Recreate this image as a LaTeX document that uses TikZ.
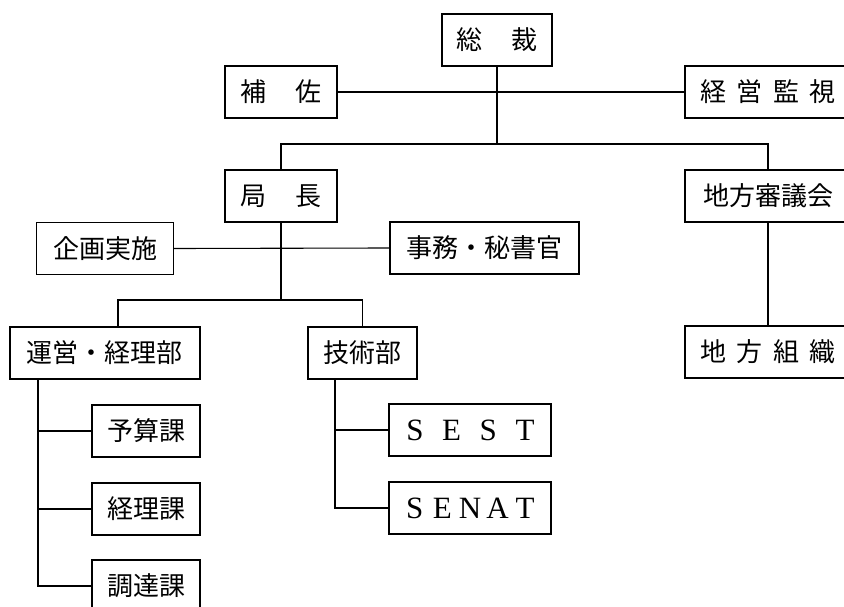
\documentclass[tikz,border=0pt]{standalone}
\usepackage{fontspec}
\setmainfont{Liberation Serif}
\newfontfamily\jpfont{Noto Sans CJK JP}
\newcommand{\pit}[2]{\makebox[#1]{#2}}
\tikzset{
  box/.style={draw, line width=1.4pt, minimum height=52pt, inner sep=0pt,
    font=\jpfont\fontsize{26}{26}\selectfont},
  latin/.style={font=\rmfamily\fontsize{31}{31}\selectfont},
  conn/.style={line width=1.3pt},
  thinconn/.style={line width=1.1pt},
}
\begin{document}
\begin{tikzpicture}[x=1pt,y=-1pt]
\useasboundingbox (0,0) rectangle (844,607);
\fill[white] (0,0) rectangle (844,607);
\clip (0,0) rectangle (844,607);

% nodes
\node[box, minimum width=108pt] (souzai) at (497,40) {\pit{55pt}{総}\pit{55pt}{裁}};
\node[box, minimum width=110pt] (hosa) at (281,92) {\pit{56pt}{補}\pit{56pt}{佐}};
\node[box, minimum width=166pt] (keiei) at (768,92) {\pit{36.5pt}{経}\pit{36.5pt}{営}\pit{36.5pt}{監}\pit{36.5pt}{視}};
\node[box, minimum width=110pt] (kyoku) at (281,196) {\pit{56pt}{局}\pit{56pt}{長}};
\node[box, minimum width=166pt] (chiho) at (768,196) {地方審議会};
\node[box, minimum width=137pt] (kikaku) at (105,248.5) {企画実施};
\node[box, minimum width=189pt] (jimu) at (484.5,248) {事務・秘書官};
\node[box, minimum width=190pt] (unei) at (105,353) {運営・経理部};
\node[box, minimum width=109pt] (gijutsu) at (362.5,353) {技術部};
\node[box, minimum width=166pt] (soshiki) at (768,352) {\pit{36.5pt}{地}\pit{36.5pt}{方}\pit{36.5pt}{組}\pit{36.5pt}{織}};
\node[box, minimum width=108pt] (yosan) at (146,431) {予算課};
\node[box, minimum width=108pt] (keiri) at (146,509) {経理課};
\node[box, minimum width=108pt] (chotatsu) at (146,586) {調達課};
\node[box, latin, minimum width=162pt] (sest) at (470,430) {\pit{36.7pt}{S}\pit{36.7pt}{E}\pit{36.7pt}{S}\pit{36.7pt}{T}};
\node[box, latin, minimum width=162pt] (senat) at (470,508) {\pit{27.6pt}{S}\pit{27.6pt}{E}\pit{27.6pt}{N}\pit{27.6pt}{A}\pit{27.6pt}{T}};

% junctions
\coordinate (j1) at (497,144);
\coordinate (j2) at (281,300);
\coordinate (j3) at (118,300);
\coordinate (j4) at (362.5,300);
\coordinate (lx) at (38,0);
\coordinate (rx) at (335,0);

% connectors
\draw[thinconn] (hosa.east) -- (keiei.west);
\draw[conn] (souzai.south) -- (j1);
\draw[conn] (kyoku.north) |- (j1) -| (chiho.north);
\draw[thinconn] (kikaku.east) -- (jimu.west);
\draw[conn] (kyoku.south) -- (j2);
\draw[conn] (j3 |- unei.north) -- (j3) -- (j4) -- (gijutsu.north);
\draw[conn] (chiho.south) -- (soshiki.north);
\draw[conn] (lx |- unei.south) |- (chotatsu.west);
\draw[conn] (lx |- yosan.west) -- (yosan.west);
\draw[conn] (lx |- keiri.west) -- (keiri.west);
\draw[conn] (rx |- gijutsu.south) |- (senat.west);
\draw[conn] (rx |- sest.west) -- (sest.west);
\end{tikzpicture}
\end{document}
